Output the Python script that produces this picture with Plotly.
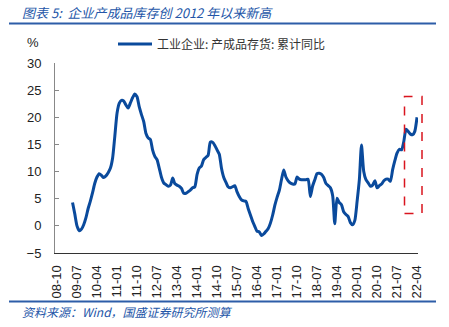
import plotly.graph_objects as go
import pandas as pd

# Monthly data: 工业企业 产成品存货 累计同比 (%), 2009-05 .. 2022-04
start_month = "2009-05-01"
values = [
    4.3, 2.2, 0.0, -0.9, -0.6, 0.2, 1.5, 3.2, 4.6, 6.2, 7.8, 9.0, 9.6, 9.3, 8.9, 9.2,
    9.8, 10.6, 12.5, 16.5, 20.8, 22.6, 23.1, 23.0, 22.3, 21.7, 22.6, 23.6, 24.3, 23.8,
    21.9, 20.5, 19.2, 17.0, 16.2, 15.9, 14.0, 12.8, 12.2, 10.6, 8.9, 7.9, 7.6, 7.3,
    7.5, 8.8, 7.8, 7.5, 7.3, 6.9, 6.0, 6.0, 6.3, 6.6, 7.0, 7.2, 9.5, 10.7, 11.0, 12.2,
    12.6, 13.0, 15.4, 15.4, 14.8, 14.0, 13.2, 10.6, 8.9, 8.0, 7.2, 7.0, 7.2, 7.4, 6.3,
    5.4, 4.8, 4.6, 4.5, 3.2, 2.0, 0.8, -0.1, -1.0, -1.1, -1.8, -1.5, -1.0, -0.5, 0.5,
    2.0, 3.8, 5.3, 6.6, 8.5, 10.3, 9.0, 8.3, 7.9, 7.7, 7.7, 9.0, 8.6, 8.5, 8.5, 8.5,
    8.6, 5.4, 7.3, 8.5, 9.6, 9.7, 9.5, 8.9, 7.8, 7.4, 7.0, 5.5, 0.4, 5.1, 4.3, 3.9,
    2.6, 2.1, 1.7, 0.6, 0.2, 1.0, 4.5, 8.5, 14.9, 10.0, 8.5, 7.9, 7.3, 7.5, 8.3, 7.0,
    7.4, 7.7, 8.3, 8.6, 8.6, 8.2, 10.3, 12.0, 13.4, 14.1, 14.0, 15.5, 17.8, 17.4,
    16.9, 16.8, 17.4, 20.0,
]
dates = pd.date_range(start_month, periods=len(values), freq="MS")

tick_dates = pd.date_range("2008-10-01", periods=19, freq="9MS")
tick_labels = [d.strftime("%y-%m") for d in tick_dates]

series_name = "工业企业: 产成品存货: 累计同比"
title_text = "图表 5:  企业产成品库存创 2012 年以来新高"
source_text = "资料来源：Wind，国盛证券研究所测算"

# highlight box vertical range (data units)
box_y0, box_y1 = 2.2, 24.0

W, H = 449, 327
L, R, T, B = 55, 31, 63, 74
pw, ph = W - L - R, H - T - B


def px(x):
    return (x - L) / pw


def py(y):
    return (H - B - y) / ph


BLUE = "#0A4A9C"
TXTBLUE = "#2456A8"

fig = go.Figure()
fig.add_trace(go.Scatter(
    x=dates, y=values, mode="lines", name=series_name,
    line=dict(color=BLUE, width=3, shape="spline", smoothing=0.6),
    showlegend=True,
))

fig.update_layout(
    width=W, height=H,
    margin=dict(l=L, r=R, t=T, b=B),
    paper_bgcolor="white", plot_bgcolor="white",
    font=dict(family="Liberation Sans, Arial, sans-serif", size=13, color="#222"),
    showlegend=True,
    legend=dict(x=px(113), y=py(44), xanchor="left", yanchor="middle",
                orientation="h", bgcolor="rgba(0,0,0,0)",
                font=dict(family="Noto Sans CJK SC", size=12, color="#333"),
                itemwidth=34, tracegroupgap=0),
    xaxis=dict(
        type="date",
        range=["2008-09-03", "2022-04-14"],
        tickvals=tick_dates, ticktext=tick_labels,
        tickangle=-90, showgrid=False, zeroline=False,
        showline=True, linecolor="#333", linewidth=1,
        ticks="", ticklabelstandoff=6,
        tickfont=dict(size=13, color="#222"),
    ),
    yaxis=dict(
        range=[-5, 30], dtick=5, showgrid=False, zeroline=False,
        showline=True, linecolor="#888", linewidth=1,
        ticks="inside", ticklen=4, tickcolor="#888",
        ticklabelstandoff=10,
        tickfont=dict(size=13, color="#222"),
    ),
    shapes=[
        dict(type="rect", xref="paper", yref="paper", x0=px(404.5), x1=px(422),
             y0=py(213.5), y1=py(96.5),
             line=dict(color="#D9141E", width=1.5, dash="dash"), fillcolor="rgba(0,0,0,0)"),
        dict(type="line", xref="paper", yref="paper", x0=px(9), x1=px(436), y0=py(23.5), y1=py(23.5),
             line=dict(color="#2D5DA8", width=2)),
        dict(type="line", xref="paper", yref="paper", x0=px(9), x1=px(436), y0=py(301.5), y1=py(301.5),
             line=dict(color="#2D5DA8", width=2)),
    ],
    annotations=[
        dict(xref="paper", yref="paper", x=px(20), y=py(12), xanchor="left", yanchor="middle",
             text="<i>" + title_text + "</i>", showarrow=False,
             font=dict(family="Noto Sans CJK SC", size=13, color=TXTBLUE)),
        dict(xref="paper", yref="paper", x=px(20), y=py(311), xanchor="left", yanchor="middle",
             text="<i>" + source_text + "</i>", showarrow=False,
             font=dict(family="Noto Sans CJK SC", size=12, color=TXTBLUE)),
        dict(xref="paper", yref="paper", x=px(41), y=py(43), xanchor="right", yanchor="middle",
             text="%", showarrow=False, font=dict(size=13, color="#222")),
    ],
)

fig.write_html("out.html")
